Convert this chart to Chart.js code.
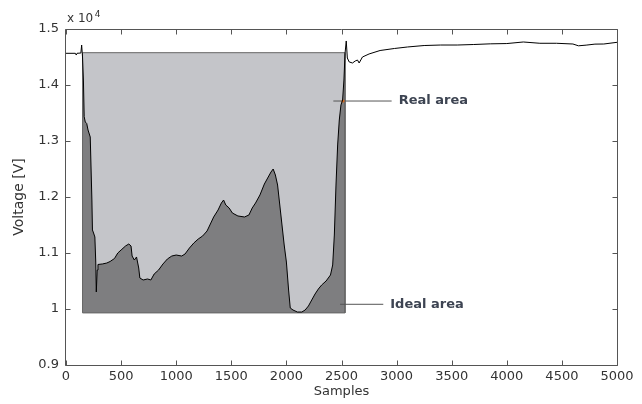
<!DOCTYPE html>
<html>
<head>
<meta charset="utf-8">
<script src="https://cdn.jsdelivr.net/npm/chart.js@4/dist/chart.umd.min.js"></script>
<style>
html,body{margin:0;padding:0;background:#fff;}
#wrap{width:642px;height:404px;}
</style>
</head>
<body>
<div id="wrap"><canvas id="c" width="642" height="404"></canvas></div>
<script>
// ---- data (volts; axis shows x 10^4) ----
const sampleX = [0,85,93,100,135,142,150,158,165,175,188,200,220,235,240,250,262,270,275,283,290,330,370,400,440,470,500,540,570,590,600,620,640,660,670,700,740,770,800,840,880,920,960,1000,1050,1080,1120,1160,1200,1240,1280,1310,1340,1380,1410,1430,1450,1480,1510,1560,1620,1660,1690,1720,1760,1800,1830,1860,1880,1900,1920,1940,1960,1980,2000,2020,2035,2060,2100,2140,2170,2200,2230,2260,2290,2320,2360,2400,2420,2435,2450,2465,2480,2495,2510,2522,2532,2543,2553,2570,2600,2625,2645,2660,2690,2750,2850,2980,3100,3250,3400,3550,3700,3850,4000,4150,4300,4450,4600,4650,4720,4800,4880,5000];
const voltage = [14566,14566,14535,14566,14571,14714,14500,14089,13434,13339,13313,13196,13071,11946,11411,11357,11286,10839,10304,10696,10795,10804,10821,10848,10902,11000,11054,11125,11161,11125,10946,10875,10929,10732,10554,10518,10536,10518,10625,10696,10804,10893,10946,10964,10946,10982,11089,11179,11250,11304,11393,11518,11643,11768,11893,11946,11857,11804,11714,11661,11643,11679,11804,11893,12036,12232,12339,12446,12500,12393,12214,11857,11500,11143,10839,10339,10018,9982,9946,9946,9982,10054,10161,10268,10357,10429,10500,10607,10786,11321,12214,12929,13375,13643,13732,14089,14560,14786,14482,14411,14393,14429,14446,14393,14500,14554,14616,14652,14679,14705,14714,14714,14723,14735,14740,14768,14745,14745,14732,14700,14712,14730,14732,14762];
const xTicks = [0,500,1000,1500,2000,2500,3000,3500,4000,4500,5000];
const yTicks = [9000,10000,11000,12000,13000,14000,15000];
// "Real area" rectangle (samples, volts)
const realAreaX = [150, 2532];
const realAreaTop = 14577;
const areaBottom = 9930;
// annotation pointers
const realLabel = 'Real area';
const idealLabel = 'Ideal area';
const realPointerX = [2426, 2955];
const realPointerV = 13714;
const idealPointerX = [2487, 2879];
const idealPointerV = 10084;
const dotX = [2514];
const dotV = [13714];

// ---- derived tables ----
const signal = sampleX.map((s, i) => ({x: s, y: voltage[i]}));
const idealPts = signal.filter(p => p.x >= realAreaX[0] && p.x <= realAreaX[1]);
const rectTop = realAreaX.map(s => ({x: s, y: realAreaTop}));
const rectOutline = [
  {x: realAreaX[0], y: areaBottom}, {x: realAreaX[0], y: realAreaTop},
  {x: realAreaX[1], y: realAreaTop}, {x: realAreaX[1], y: areaBottom},
  {x: realAreaX[0], y: areaBottom}
];
const realPtr = realPointerX.map(s => ({x: s, y: realPointerV}));
const idealPtr = idealPointerX.map(s => ({x: s, y: idealPointerV}));
const dotPts = dotX.map((s, i) => ({x: s, y: dotV[i]}));

const FONT = '"DejaVu Sans", sans-serif';

const framePlugin = {
  id: 'frame',
  afterDatasetsDraw(chart) {
    const {ctx, chartArea: a, scales: {x, y}} = chart;
    const L = Math.round(a.left) - 0.5, R = Math.round(a.right) + 0.5;
    const T = Math.round(a.top) + 0.5, B = Math.round(a.bottom) + 0.5;
    ctx.save();
    ctx.strokeStyle = '#555';
    ctx.lineWidth = 1;
    ctx.beginPath();
    ctx.rect(L, T, R - L, B - T);
    x.ticks.forEach(t => {
      const p = Math.round(x.getPixelForValue(t.value)) + 0.5;
      ctx.moveTo(p, B); ctx.lineTo(p, B - 5);
      ctx.moveTo(p, T); ctx.lineTo(p, T + 5);
    });
    y.ticks.forEach(t => {
      const p = Math.round(y.getPixelForValue(t.value)) + 0.5;
      ctx.moveTo(L, p); ctx.lineTo(L + 5, p);
      ctx.moveTo(R, p); ctx.lineTo(R - 5, p);
    });
    ctx.stroke();
    // exponent label
    ctx.fillStyle = '#333';
    ctx.textBaseline = 'alphabetic';
    ctx.textAlign = 'left';
    ctx.font = '12px ' + FONT;
    ctx.fillText('x 10', a.left + 1, a.top - 7);
    const w = ctx.measureText('x 10').width;
    ctx.font = '9px ' + FONT;
    ctx.fillText('4', a.left + 2.5 + w, a.top - 12);
    // annotation labels
    ctx.font = 'bold 13px ' + FONT;
    ctx.fillStyle = '#3d4452';
    ctx.textBaseline = 'middle';
    ctx.fillText(realLabel, x.getPixelForValue(realPointerX[1]) + 7, y.getPixelForValue(realPointerV));
    ctx.fillText(idealLabel, x.getPixelForValue(idealPointerX[1]) + 7, y.getPixelForValue(idealPointerV));
    ctx.restore();
  }
};

new Chart(document.getElementById('c'), {
  type: 'line',
  data: {
    datasets: [
      {data: signal, borderColor: '#000', borderWidth: 1, pointRadius: 0, fill: false, tension: 0},
      {data: dotPts, showLine: false, pointRadius: 1.6, pointBackgroundColor: '#d2691e', pointBorderWidth: 0},
      {data: realPtr, borderColor: '#555', borderWidth: 1, pointRadius: 0, fill: false},
      {data: idealPtr, borderColor: '#555', borderWidth: 1, pointRadius: 0, fill: false},
      {data: rectOutline, borderColor: '#666', borderWidth: 1, pointRadius: 0, fill: false},
      {data: idealPts, borderWidth: 0, borderColor: 'rgba(0,0,0,0)', backgroundColor: '#7e7e80', pointRadius: 0, fill: {value: areaBottom}},
      {data: rectTop, borderWidth: 0, borderColor: 'rgba(0,0,0,0)', backgroundColor: '#c4c5c9', pointRadius: 0, fill: {value: areaBottom}}
    ]
  },
  options: {
    responsive: false,
    animation: false,
    devicePixelRatio: 1,
    layout: {padding: {top: 29, right: 25, left: 0, bottom: 0}},
    plugins: {legend: {display: false}, tooltip: {enabled: false}},
    scales: {
      x: {
        type: 'linear', min: 0, max: 5000,
        afterBuildTicks: s => { s.ticks = xTicks.map(v => ({value: v})); },
        afterFit: s => { s.height = 39; },
        grid: {display: false, drawTicks: false},
        border: {display: false},
        ticks: {autoSkip: false, maxRotation: 0, padding: 4, color: '#333', font: {family: FONT, size: 13}, callback: v => String(v)},
        title: {display: true, text: 'Samples', color: '#333', font: {family: FONT, size: 13}, padding: {top: 0, bottom: 5}}
      },
      y: {
        type: 'linear', min: 9000, max: 15000,
        afterBuildTicks: s => { s.ticks = yTicks.map(v => ({value: v})); },
        afterFit: s => { s.width = 66; },
        grid: {display: false, drawTicks: false},
        border: {display: false},
        ticks: {padding: 7, color: '#333', font: {family: FONT, size: 13}, callback: v => String(+(v / 1e4).toFixed(1))},
        title: {display: true, text: 'Voltage [V]', color: '#333', font: {family: FONT, size: 14}, padding: {top: 11, bottom: 0}}
      }
    }
  },
  plugins: [framePlugin]
});
</script>
</body>
</html>
